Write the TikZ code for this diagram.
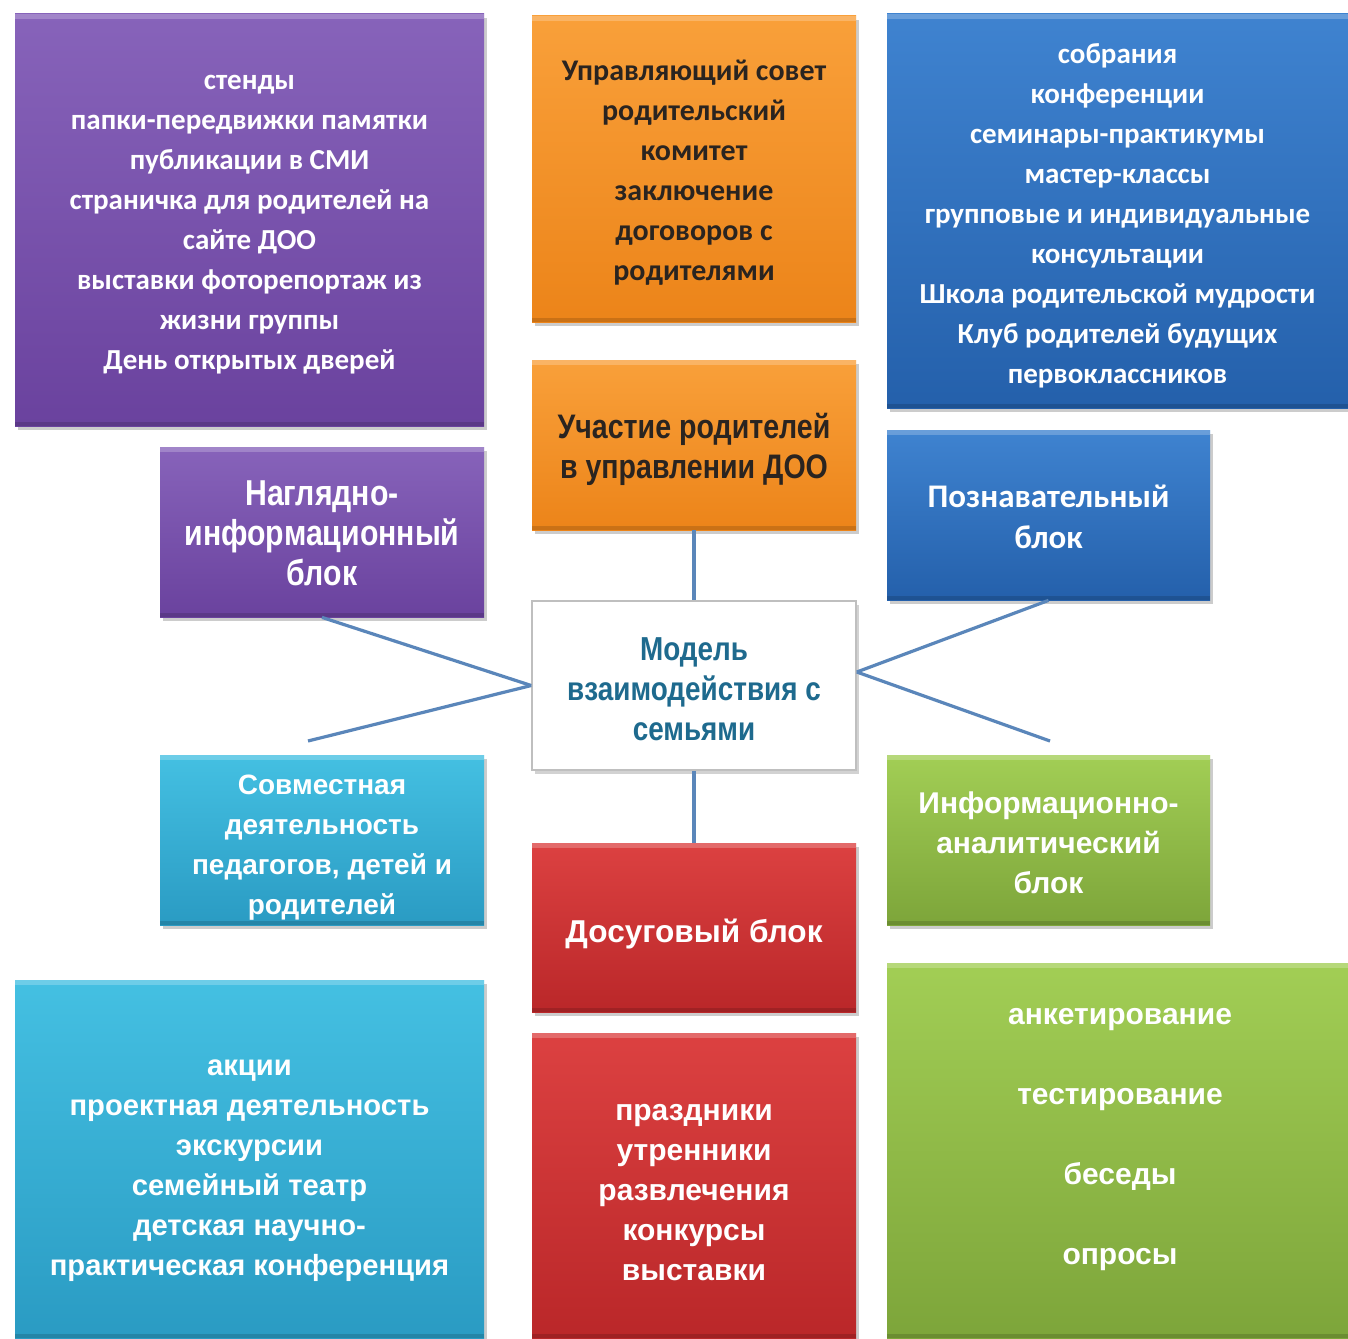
\documentclass[tikz,border=0pt]{standalone}
\usepackage{fontspec}
\setmainfont{Liberation Sans}
\newfontfamily\calb{Carlito}
\newfontfamily\narrowf{Liberation Sans}[FakeStretch=0.84]
\usetikzlibrary{shadows}
\definecolor{purpT}{HTML}{8763BA}
\definecolor{purpB}{HTML}{6A429E}
\definecolor{oranT}{HTML}{F9A03A}
\definecolor{oranB}{HTML}{EC8419}
\definecolor{bluT}{HTML}{3F83D0}
\definecolor{bluB}{HTML}{2460AB}
\definecolor{cyaT}{HTML}{44C0E2}
\definecolor{cyaB}{HTML}{2A9BC3}
\definecolor{redT}{HTML}{DC4141}
\definecolor{redB}{HTML}{BA2729}
\definecolor{grnT}{HTML}{A2CE55}
\definecolor{grnB}{HTML}{7DA53A}
\definecolor{connblue}{HTML}{5A86BA}
\definecolor{teal}{HTML}{1E6A8E}
\definecolor{dtext}{HTML}{2A2420}
\tikzset{
  blk/.style={rectangle, align=center, inner sep=0pt,
    drop shadow={shadow xshift=1.5pt, shadow yshift=-2pt, opacity=0.4},
    path picture={
      \fill[white, opacity=0.22] (path picture bounding box.north west) rectangle ([yshift=-2.5pt]path picture bounding box.north east);
      \fill[black, opacity=0.14] (path picture bounding box.south west) rectangle ([yshift=2pt]path picture bounding box.south east);
    }},
  purp/.style={blk, top color=purpT, bottom color=purpB, text=white},
  oran/.style={blk, top color=oranT, bottom color=oranB, text=dtext},
  blu/.style={blk, top color=bluT, bottom color=bluB, text=white},
  cya/.style={blk, top color=cyaT, bottom color=cyaB, text=white},
  redbox/.style={blk, top color=redT, bottom color=redB, text=white},
  grn/.style={blk, top color=grnT, bottom color=grnB, text=white},
  ctr/.style={rectangle, align=center, inner sep=0pt, fill=white, draw=black!25, line width=0.8pt, text=teal,
    drop shadow={shadow xshift=1.5pt, shadow yshift=-2pt, opacity=0.35}},
  conn/.style={draw=connblue, line width=1.6pt},
  calf/.style={font=\calb\bfseries\fontsize{#1}{20}\selectfont},
  narf/.style={font=\narrowf\bfseries\fontsize{#1}{20}\selectfont},
  arf/.style={font=\bfseries\fontsize{#1}{20}\selectfont},
  lift/.style={execute at begin node={\rule{0pt}{#1pt}}},
}
\begin{document}
\begin{tikzpicture}[x=0.5pt, y=-0.5pt]
\useasboundingbox[fill=white] (0,0) rectangle (1348,1338);
% top row
\node[purp, calf=14.5, lift=152, minimum width=234.5pt, minimum height=206pt] (pt) at (249.5,220)
  {стенды\\папки-передвижки памятки\\публикации в СМИ\\страничка для родителей на\\сайте ДОО\\выставки фоторепортаж из\\жизни группы\\День открытых дверей};
\node[oran, calf=15, lift=114, minimum width=162pt, minimum height=153pt] (ot) at (694,169)
  {Управляющий совет\\родительский\\комитет\\заключение\\договоров с\\родителями};
\node[blu, calf=14.5, lift=175, minimum width=230.5pt, minimum height=197pt] (bt) at (1117.5,211)
  {собрания\\конференции\\семинары-практикумы\\мастер-классы\\групповые и индивидуальные\\консультации\\Школа родительской мудрости\\Клуб родителей будущих\\первоклассников};
% middle row
\node[purp, narf=18, lift=54, minimum width=162pt, minimum height=85pt] (pm) at (322,532)
  {Наглядно-\\информационный\\блок};
\node[oran, narf=17, lift=37, minimum width=162pt, minimum height=85pt] (om) at (694,445)
  {Участие родителей\\в управлении ДОО};
\node[blu, font=\calb\bfseries\fontsize{16.5}{20.5}\selectfont, lift=33.9, minimum width=161.5pt, minimum height=85pt] (bm) at (1048.5,515)
  {Познавательный\\блок};
\node[ctr, narf=16.6, lift=55, minimum width=162pt, minimum height=84.5pt] (c) at (694,685.5)
  {Модель\\взаимодействия с\\семьями};
\node[cya, arf=14, lift=77, minimum width=162pt, minimum height=85pt] (cm) at (322,840)
  {Совместная\\деятельность\\педагогов, детей и\\родителей};
\node[redbox, arf=15.8, lift=18, minimum width=162pt, minimum height=84.5pt] (rm) at (694,927.5)
  {Досуговый блок};
\node[grn, arf=15, lift=54, minimum width=161.5pt, minimum height=85pt] (gm) at (1048.5,840)
  {Информационно-\\аналитический\\блок};
% bottom row
\node[cya, arf=14.6, lift=120, minimum width=234.5pt, minimum height=179pt] (cb) at (249.5,1159)
  {акции\\проектная деятельность\\экскурсии\\семейный театр\\детская научно-\\практическая конференция};
\node[redbox, arf=15, lift=95, minimum width=162pt, minimum height=152.5pt] (rb) at (694,1185.5)
  {праздники\\утренники\\развлечения\\конкурсы\\выставки};
\node[grn, minimum width=230.5pt, minimum height=187.5pt] (gb) at (1117.5,1150.5) {};
\node[text=white, font=\bfseries\fontsize{15}{40}\selectfont, align=center] (gbt) at (1120,1140)
  {анкетирование\\тестирование\\беседы\\опросы};
% connectors
\coordinate (le) at (308,741);
\coordinate (re) at (1050,741);
\draw[conn] (om.south) -- (c.north);
\draw[conn] (c.south) -- (rm.north);
\draw[conn] (pm.south) -- (c.west);
\draw[conn] (le) -- (c.west);
\draw[conn] (bm.south) -- ([yshift=6.75pt]c.east);
\draw[conn] (re) -- ([yshift=6.75pt]c.east);
\end{tikzpicture}
\end{document}
